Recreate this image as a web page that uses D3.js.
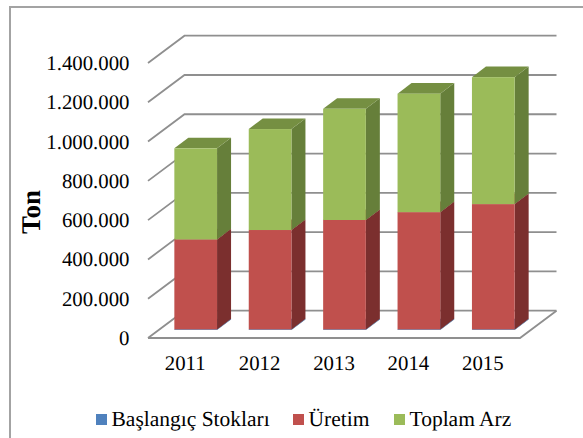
<!DOCTYPE html>
<html><head><meta charset="utf-8">
<script src="https://cdn.jsdelivr.net/npm/d3@7/dist/d3.min.js"></script>
<style>html,body{margin:0;padding:0;background:#fff}svg{display:block}text{font-family:"Liberation Serif",serif;fill:#000;text-rendering:geometricPrecision}</style>
</head><body><svg id="c" width="583" height="438"></svg>
<script>
const years = ["2011","2012","2013","2014","2015"];
const seriesNames = ["Başlangıç Stokları","Üretim","Toplam Arz"];
const stocks = [3000,3000,3000,3000,3000];
const production = [458000,506000,557000,597000,638000];
const supply = [464000,514000,566000,603000,646000];
const yTicks = [0,200000,400000,600000,800000,1000000,1200000,1400000];
const tickLabels = ["0","200.000","400.000","600.000","800.000","1.000.000","1.200.000","1.400.000"];
const frontColors = ["#4F81BD","#C0504D","#9BBB59"];
const sideColors = ["#3A6090","#7B2F2E","#667F3A"];
const topColors = ["#4674A8","#8F3B39","#758F42"];

const svg = d3.select("#c");
const y = d3.scaleLinear().domain([0,1400000]).range([338,63]);
const floorDx = 36.5, floorDy = -27.3, frontLeft = 148, frontRight = 520;
const barDx = 14, barDy = -10.6, planeDx = 10.5, planeDy = -8;
const xLabel = d3.scaleBand().domain(years).range([frontLeft,frontRight]);
const xBar = d3.scaleBand().domain(years).range([frontLeft+planeDx,frontRight+planeDx]).paddingInner(.426).paddingOuter(.213);
const grid = "#8F8F8F";

svg.append("path").attr("d","M10,438V7H583").attr("fill","none").attr("stroke","#A3A3A3").attr("stroke-width",2);

// walls and floor
const g = svg.append("g").attr("fill","none").attr("stroke",grid).attr("stroke-width",1.8);
g.selectAll(".level").data(yTicks).join("path")
  .attr("d",v=>`M${frontLeft},${y(v)}L${frontLeft+floorDx},${y(v)+floorDy}H${frontRight+floorDx}`);
g.append("path").attr("d",`M${frontLeft},${y(0)}H${frontRight}L${frontRight+floorDx},${y(0)+floorDy}`);

// bars
const stack = d3.stack().keys([0,1,2]).value((d,k)=>[stocks,production,supply][k][d])(years.map((_,i)=>i));
const bars = svg.append("g");
years.forEach((yr,i)=>{
  const b = bars.append("g");
  const x0 = xBar(yr), x1 = x0+xBar.bandwidth();
  stack.forEach((s,k)=>{
    const t = y(s[i][1])+planeDy, u = y(s[i][0])+planeDy;
    b.append("path").attr("fill",sideColors[k])
      .attr("d",`M${x1},${u}L${x1+barDx},${u+barDy}V${t+barDy}L${x1},${t}Z`);
    b.append("path").attr("fill",topColors[k])
      .attr("d",`M${x0},${t}L${x0+barDx},${t+barDy}H${x1+barDx}L${x1},${t}Z`);
    b.append("rect").attr("fill",frontColors[k]).attr("x",x0).attr("y",t).attr("width",x1-x0).attr("height",u-t);
  });
});

// axis labels
svg.selectAll(".yl").data(yTicks).join("text").attr("x",129.5).attr("y",v=>y(v)+7)
  .attr("text-anchor","end").attr("font-size",20.8).text((v,i)=>tickLabels[i]);
svg.selectAll(".xl").data(years).join("text").attr("x",d=>xLabel(d)+xLabel.bandwidth()/2).attr("y",370)
  .attr("text-anchor","middle").attr("font-size",20.8).text(d=>d);
svg.append("text").attr("transform","translate(39.5,212) rotate(-90)").attr("text-anchor","middle")
  .attr("font-size",27).attr("font-weight","bold").text("Ton");

// legend
const legX = [96,293,394];
seriesNames.forEach((n,k)=>{
  svg.append("rect").attr("x",legX[k]).attr("y",414).attr("width",11).attr("height",11).attr("fill",frontColors[k]);
  svg.append("text").attr("x",legX[k]+15.5).attr("y",426).attr("font-size",21.5).text(n);
});
</script></body></html>
